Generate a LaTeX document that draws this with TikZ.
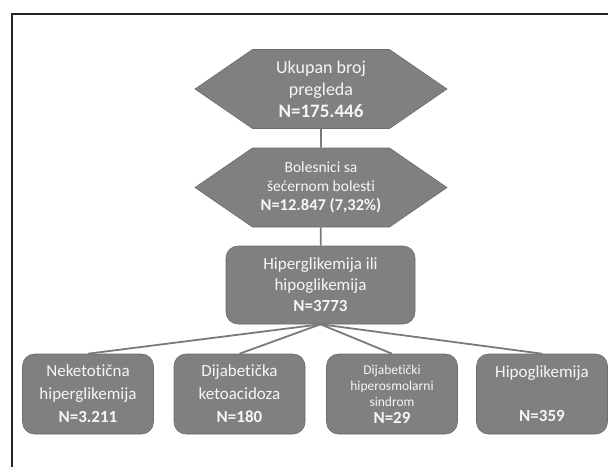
\documentclass[tikz,border=0pt]{standalone}
\usepackage{fontspec}
\setmainfont{Carlito}[Ligatures=NoCommon]
\usepackage{tkz-graph}
\usetikzlibrary{arrows,positioning,shapes,calc}
\definecolor{boxgray}{RGB}{128,128,130}
\definecolor{rimgray}{RGB}{108,108,110}
\definecolor{linegray}{RGB}{122,122,124}
\definecolor{textwhite}{RGB}{246,246,246}

\begin{document}
\begin{tikzpicture}[x=1pt,y=-1pt]
  \useasboundingbox (0,0) rectangle (608,467);
  \draw[line width=1.3pt,black!85] (12,467) -- (12,14) -- (608,14);

  \tikzstyle{HexStyle}=[signal,signal to=east and west,signal pointer angle=69,
    fill=boxgray,draw=rimgray,line width=0.6pt,text=textwhite,align=center,
    minimum width=252pt,minimum height=79pt,inner sep=0pt]
  \tikzstyle{BoxStyle}=[rectangle,rounded corners=12pt,fill=boxgray,draw=rimgray,
    line width=0.6pt,text=textwhite,align=center,minimum height=80pt,
    minimum width=131pt,inner sep=0pt]

  \node[HexStyle,font=\fontsize{18}{22}\selectfont] (ukupno) at (321,89)
    {Ukupan broj\\pregleda\\{\fontsize{19}{22}\selectfont\bfseries N=175.446}};
  \node[HexStyle,font=\fontsize{15.5}{19}\selectfont] (bolesnici) at (321,187.5)
    {Bolesnici sa\\šećernom bolesti\\{\fontsize{16.5}{19}\selectfont\bfseries N=12.847 (7,32\%)}};
  \node[BoxStyle,minimum width=189pt,minimum height=78pt,
    font=\fontsize{17}{21}\selectfont] (glikemija) at (320.5,285)
    {Hiperglikemija ili\\hipoglikemija\\\textbf{N=3773}};

  \node[BoxStyle,font=\fontsize{17}{23}\selectfont] (neketoticna) at (88,394)
    {Neketotična\\hiperglikemija\\\textbf{N=3.211}};
  \node[BoxStyle,font=\fontsize{17}{23}\selectfont] (ketoacidoza) at (239.5,394)
    {Dijabetička\\ketoacidoza\\\textbf{N=180}};
  \node[BoxStyle,font=\fontsize{13.5}{16}\selectfont] (hiperosmolarni) at (392,394)
    {Dijabetički\\hiperosmolarni\\sindrom\\[1pt]{\fontsize{17}{20}\selectfont\bfseries N=29}};
  \node[BoxStyle,font=\fontsize{17}{22}\selectfont] (hipoglikemija) at (542,394)
    {Hipoglikemija\\[22pt]\textbf{N=359}};

  \SetUpEdge[lw=1.8pt,color=linegray]
  \tikzstyle{EdgeStyle}=[]
  \Edge(ukupno)(bolesnici)
  \Edge(bolesnici)(glikemija)
  \Edge(glikemija.south)(neketoticna.north)
  \Edge(glikemija.south)(ketoacidoza.north)
  \Edge(glikemija.south)(hiperosmolarni.north)
  \Edge(glikemija.south)(hipoglikemija.north)

\end{tikzpicture}
\end{document}
